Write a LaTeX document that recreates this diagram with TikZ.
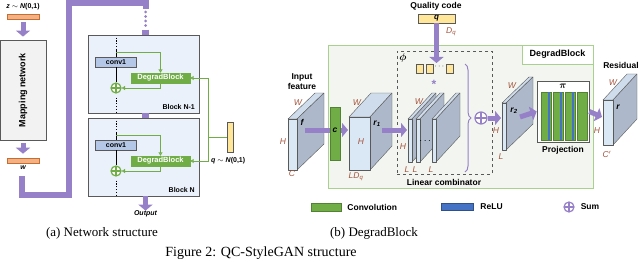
\documentclass[tikz,border=0pt]{standalone}
\usepackage{amsmath}
\usepackage{fontspec}
\setmainfont{Liberation Serif}
\setsansfont{Liberation Sans}
\usetikzlibrary{arrows.meta, positioning, decorations.pathreplacing, calc}
\definecolor{qsPurple}{RGB}{150,128,200}
\definecolor{qsGreen}{RGB}{112,173,71}
\definecolor{qsGreenDk}{RGB}{84,130,53}
\definecolor{qsBlue}{RGB}{68,114,196}
\definecolor{qsOrange}{RGB}{244,177,131}
\definecolor{qsOrangeDk}{RGB}{197,110,50}
\definecolor{qsYellow}{RGB}{255,230,153}
\definecolor{qsBlockFill}{RGB}{235,241,250}
\definecolor{qsConvFill}{RGB}{180,199,231}
\definecolor{qsDim}{RGB}{165,85,62}
\definecolor{qsEdge}{RGB}{89,89,89}
\definecolor{qsFront}{RGB}{218,232,246}
\definecolor{qsSide}{RGB}{173,185,202}
\definecolor{qsTop}{RGB}{207,220,235}
\definecolor{qsPanel}{RGB}{243,246,240}
\definecolor{qsPanelEdge}{RGB}{169,209,142}
\tikzset{
  qs/lbl/.style={font=\sffamily\bfseries\fontsize{7}{8}\selectfont, inner sep=0pt},
  qs/title/.style={font=\sffamily\bfseries\fontsize{8.5}{10}\selectfont,
    align=center, inner sep=0pt},
  qs/dim/.style={font=\sffamily\itshape\fontsize{8.5}{9}\selectfont,
    text=qsDim, inner sep=0pt},
  qs/var/.style={font=\sffamily\bfseries\itshape\fontsize{8.5}{9}\selectfont,
    inner sep=0pt},
  qs/cap/.style={font=\rmfamily\fontsize{13}{15}\selectfont, inner sep=0pt},
  qs/bar/.style={rectangle, draw=qsOrangeDk, fill=qsOrange, line width=0.6pt,
    minimum width=32pt, minimum height=5pt, inner sep=0pt},
  qs/ybar/.style={rectangle, draw=qsEdge, fill=qsYellow, line width=0.6pt,
    inner sep=0pt},
  qs/mapbox/.style={rectangle, draw=qsEdge, fill=black!5, line width=0.8pt,
    minimum width=46pt, minimum height=100pt},
  qs/block/.style={rectangle, draw=qsEdge, fill=qsBlockFill, line width=0.8pt,
    minimum width=111pt, minimum height=78pt},
  qs/conv/.style={rectangle, draw=qsEdge, fill=qsConvFill, line width=0.6pt,
    minimum width=41pt, minimum height=10pt, inner sep=0pt,
    font=\sffamily\bfseries\fontsize{7}{8}\selectfont},
  qs/degrad/.style={rectangle, draw=qsGreen, fill=qsGreen, text=white,
    minimum width=59pt, minimum height=10pt, inner sep=0pt,
    font=\sffamily\bfseries\fontsize{7.5}{8}\selectfont},
  qs/sum/.style={circle, draw=#1, fill=white, line width=1.2pt,
    minimum size=10pt, inner sep=0pt,
    path picture={\draw[#1, line width=1.2pt]
      (path picture bounding box.north) -- (path picture bounding box.south)
      (path picture bounding box.west) -- (path picture bounding box.east);}},
  qs/wire/.style={draw=black, line width=0.8pt},
  qs/wdots/.style={draw=black, line width=1pt, dash pattern=on 1.2pt off 1.6pt},
  qs/garr/.style={-{Triangle[open, length=3.5pt, width=4pt]}, draw=qsGreen,
    line width=0.9pt},
  qs/bus/.style={draw=qsPurple, line width=6pt},
  qs/parr/.style={-{Triangle[length=6pt, width=14pt]}, draw=qsPurple,
    line width=5pt},
  qs/panel/.style={rectangle, draw=qsPanelEdge, fill=qsPanel, line width=0.8pt,
    minimum width=265pt, minimum height=143pt},
  qs/dashbox/.style={rectangle, draw=qsEdge, dashed, line width=0.6pt,
    minimum width=95pt, minimum height=123pt},
  qs/face/.style={draw=qsEdge, line width=0.4pt, line join=round}
}
% feature map drawn as a 3D box: x, y (top left of front), w, h, dx, dy
\newcommand{\fmap}[6]{%
  \filldraw[qs/face, fill=qsTop] (#1,#2) -- ++(#5,-#6) -- ++(#3,0) -- ++(-#5,#6) -- cycle;
  \filldraw[qs/face, fill=qsSide] (#1+#3,#2) -- ++(#5,-#6) -- ++(0,#4) -- ++(-#5,#6) -- cycle;
  \filldraw[qs/face, fill=qsFront] (#1,#2) rectangle ++(#3,#4);}

\begin{document}
\begin{tikzpicture}[x=1pt, y=-1pt]
  \useasboundingbox (0,0) rectangle (640,262);

  % (a) network structure
  \node[qs/lbl] (zlbl) at (23,7) {\textit{z} $\sim$ \textit{N}(0,1)};
  \node[qs/bar] (zbar) at (23,16.5) {};
  \node[qs/mapbox] (map) at (23,90) {};
  \node[qs/title, font=\sffamily\bfseries\fontsize{9}{9}\selectfont, rotate=90]
    (maptxt) at (map.center) {Mapping network};
  \node[qs/bar] (wbar) at (23,160.5) {};
  \node[qs/lbl, font=\sffamily\bfseries\itshape\fontsize{7}{8}\selectfont]
    (wlbl) at (23,168) {w};
  \draw[qs/parr] ([yshift=-3pt]zbar.south) -- ([yshift=3pt]map.north);
  \draw[qs/parr] ([yshift=-3pt]map.south) -- ([yshift=4pt]wbar.north);

  \node[qs/block] (blkA) at (143.5,74) {};
  \node[qs/block] (blkB) at (143.5,157) {};
  \node[qs/lbl, anchor=east] (blkAlbl) at (195,107) {Block N-1};
  \node[qs/lbl, anchor=east] (blkBlbl) at (195,190) {Block N};

  \coordinate (busin) at (22,176);
  \draw[qs/bus, line join=miter] (busin) -- (22,194.5) -| (69,3.5) -| (145.5,9);
  \draw[draw=qsPurple, line width=3pt, line cap=round, dash pattern=on 0pt off 4.5pt]
    (145.5,12) -- (145.5,28);
  \draw[draw=qsPurple, line width=7pt] ([xshift=2pt,yshift=5pt]blkA.north)
    -- ([xshift=2pt]blkA.north);
  \draw[draw=qsPurple, line width=7pt] ([xshift=2pt]blkA.south) -- ([xshift=2pt]blkB.north);
  \node[qs/lbl, font=\sffamily\bfseries\itshape\fontsize{7}{8}\selectfont]
    (out) at (145.5,214) {Output};
  \draw[qs/parr] ([xshift=2pt]blkB.south) -- (out.north);

  % block N-1
  \node[qs/conv] (convA) at (116,62) {conv1};
  \node[qs/degrad] (dgA) at (160.5,78) {DegradBlock};
  \node[qs/sum=qsGreen] (sumA) at (116,88) {};
  \draw[qs/wdots] (convA.north |- blkA.north) ++(0,3) -- ++(0,12);
  \draw[qs/wire] (convA.north) -- ++(0,-7);
  \draw[qs/wire] (convA.south) -- (sumA.north);
  \draw[qs/wdots] (sumA.south) ++(0,4) -- ++(0,16);
  \coordinate (brA) at ($(convA.north)+(0,-4)$);
  \draw[qs/garr] (brA) -| (dgA.north);
  \draw[qs/garr] (dgA.south) |- (sumA.east);

  % block N
  \node[qs/conv] (convB) at (116,145) {conv1};
  \node[qs/degrad] (dgB) at (160.5,161) {DegradBlock};
  \node[qs/sum=qsGreen] (sumB) at (116,171) {};
  \draw[qs/wdots] (convB.north |- blkB.north) ++(0,3) -- ++(0,12);
  \draw[qs/wire] (convB.north) -- ++(0,-7);
  \draw[qs/wire] (convB.south) -- (sumB.north);
  \draw[qs/wdots] (sumB.south) ++(0,4) -- ++(0,16);
  \coordinate (brB) at ($(convB.north)+(0,-4)$);
  \draw[qs/garr] (brB) -| (dgB.north);
  \draw[qs/garr] (dgB.south) |- (sumB.east);

  \node[qs/ybar, minimum width=6pt, minimum height=30pt] (qbar) at (230,137) {};
  \node[qs/lbl, anchor=west] (qlbl) at (211,161) {\textit{q} $\sim$ \textit{N}(0,1)};
  \draw[qs/garr] (qbar.west) -| ([xshift=18pt]dgA.east) -- (dgA.east);
  \draw[qs/garr] (qbar.west) -| ([xshift=18pt]dgB.east) -- (dgB.east);

  % (b) DegradBlock
  \node[qs/panel] (panel) at (460.5,116.5) {};
  \node[rectangle, draw=qsPanelEdge, fill=white, line width=0.8pt, anchor=north east,
    minimum width=71pt, minimum height=19pt,
    font=\sffamily\bfseries\fontsize{9}{10}\selectfont] (ptitle) at (panel.north east)
    {DegradBlock};
  \node[qs/dashbox] (phi) at (444.5,112.5) {};
  \node[inner sep=0pt] (philbl) at (403,58) {$\boldsymbol{\phi}$};

  \node[qs/title] (qctxt) at (436,6) {Quality code};
  \node[qs/ybar, minimum width=37pt, minimum height=9pt,
    font=\sffamily\bfseries\itshape\fontsize{8}{8}\selectfont] (qcode) at (436.5,18.5) {q};
  \node[qs/dim, anchor=west] (dq) at (446,32) {D\textsubscript{q}};
  \coordinate (qin) at (436.5,63);
  \draw[qs/parr] (qcode.south) -- (qin);
  \node[qs/ybar, minimum width=7pt, minimum height=9pt] (sq1) at (419.5,68.5) {};
  \node[qs/ybar, minimum width=7pt, minimum height=9pt, right=3pt of sq1] (sq2) {};
  \node[qs/ybar, minimum width=7pt, minimum height=9pt] (sq3) at (450,68.5) {};
  \node[inner sep=0pt, font=\sffamily\bfseries\fontsize{8}{8}\selectfont]
    (sqdots) at (440,67) {$\cdots$};
  \node[inner sep=0pt, text=qsPurple, font=\sffamily\bfseries\fontsize{12}{12}\selectfont]
    (star) at (434,84) {*};

  % input feature f
  \node[qs/title] (intxt) at (302,82) {Input\\feature};
  \fmap{288}{119}{9}{51}{27}{26}
  \node[qs/dim] (fW) at (298,103) {W};
  \node[qs/dim] (fH) at (283,142) {H};
  \node[qs/dim] (fC) at (292,174) {C};
  \node[qs/var] (fv) at (302,122) {f};
  \coordinate (fout) at (305,130);
  \coordinate (r1in) at (348,130);
  \draw[qs/parr] (fout) -- (r1in);
  \node[rectangle, draw=qsGreenDk, fill=qsGreen, line width=0.5pt,
    minimum width=10pt, minimum height=53pt] (convc) at (335,133.5) {};
  \node[qs/var] (cv) at (335,130) {c};

  % r1
  \fmap{349}{117}{21}{53}{22}{24}
  \node[qs/dim] (r1W) at (357,103) {W};
  \node[qs/dim] (r1H) at (361,142) {H};
  \node[qs/dim] (r1C) at (356,177) {LD\textsubscript{q}};
  \node[qs/var] (r1v) at (377,124) {r\textsubscript{1}};
  \coordinate (r1out) at (382,130);
  \coordinate (cmbin) at (407,130);
  \draw[qs/parr] (r1out) -- (cmbin);

  % linear combinator slabs
  \fmap{408}{119}{4}{43}{24}{26}
  \fmap{416}{119}{4}{43}{24}{26}
  \fmap{432}{119}{4}{43}{24}{26}
  \node[inner sep=0pt] (sldots) at (426,141) {$\cdots$};
  \node[qs/dim] (slW) at (419,102) {W};
  \node[qs/dim] (slH) at (403,147) {H};
  \node[qs/dim] (slL1) at (407,170) {L};
  \node[qs/dim] (slL2) at (415,170) {L};
  \node[qs/dim] (slL3) at (431,170) {L};
  \node[qs/title] (lctxt) at (444,182) {Linear combinator};
  \draw[draw=qsPurple, line width=1pt, decorate, decoration={brace, amplitude=6pt}]
    (465,64) -- (465,172);
  \node[qs/sum=qsPurple, minimum size=12pt] (psum) at (481,118) {};
  \coordinate (r2in) at (501,118);
  \draw[qs/parr] (psum.east) -- (r2in);

  % r2
  \fmap{502}{103}{4}{47}{27}{26}
  \node[qs/dim] (r2W) at (512,86) {W};
  \node[qs/dim] (r2H) at (496,131) {H};
  \node[qs/dim] (r2L) at (501,157) {L};
  \node[qs/var] (r2v) at (514,111) {r\textsubscript{2}};
  \coordinate (r2out) at (520,117);

  % projection
  \node[rectangle, draw=qsEdge, fill=white, line width=0.6pt,
    minimum width=52pt, minimum height=61pt] (proj) at (563,111.5) {};
  \node[inner sep=0pt] (pilbl) at (563,86) {$\boldsymbol{\pi}$};
  \foreach \x in {541,553,565,577} {
    \filldraw[draw=qsGreenDk, fill=qsGreen, line width=0.4pt] (\x,92) rectangle ++(10.5,48);
  }
  \foreach \x in {541,553,565} {
    \fill[qsBlue] (\x+6.5,92.4) rectangle ++(2.5,47.2);
  }
  \node[qs/title] (projtxt) at (563,150) {Projection};
  \draw[qs/parr] (r2out) -- (proj.west);

  % residual r
  \fmap{603}{100}{10}{45}{24}{26}
  \node[qs/title] (restxt) at (621,65) {Residual};
  \node[qs/dim] (rW) at (613,83) {W};
  \node[qs/dim] (rH) at (597,131) {H};
  \node[qs/dim] (rC) at (607,154) {C$'$};
  \node[qs/var] (rv) at (618,107) {r};
  \coordinate (rin) at (602,117);
  \draw[qs/parr] (proj.east) -- (rin);

  % legend
  \node[rectangle, draw=qsGreenDk, fill=qsGreen, line width=0.5pt,
    minimum width=30pt, minimum height=8pt] (lgconv) at (326,207) {};
  \node[qs/title, anchor=west, right=6pt of lgconv] (lgconvtxt) {Convolution};
  \node[rectangle, draw=qsBlue!70!black, fill=qsBlue, line width=0.5pt,
    minimum width=32pt, minimum height=5pt] (lgrelu) at (457,206.5) {};
  \node[qs/title, anchor=west, right=7pt of lgrelu] (lgrelutxt) {ReLU};
  \node[qs/sum=qsPurple] (lgsum) at (569,207) {};
  \node[qs/title, anchor=west, right=6pt of lgsum] (lgsumtxt) {Sum};

  % captions
  \node[qs/cap] (capa) at (102,233) {(a) Network structure};
  \node[qs/cap] (capb) at (374,233) {(b) DegradBlock};
  \node[qs/cap, font=\rmfamily\fontsize{14}{16}\selectfont]
    (capfig) at (261,253) {Figure 2: QC-StyleGAN structure};
\end{tikzpicture}
\end{document}
